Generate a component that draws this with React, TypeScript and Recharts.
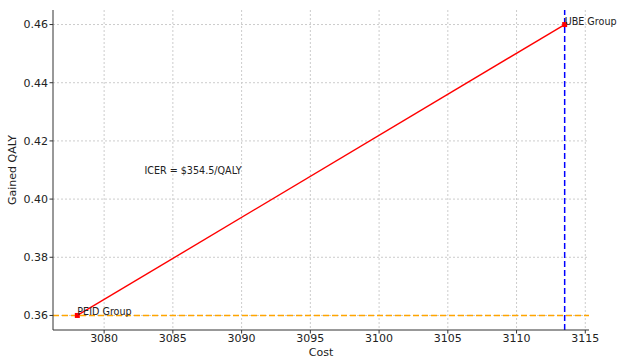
import { LineChart, Line, XAxis, YAxis, CartesianGrid, ReferenceLine, ReferenceDot, Label } from 'recharts'

const groups = ['PEID Group', 'UBE Group']
const costs = [3078.05, 3113.5]
const qalys = [0.36, 0.46]
const xTicks = [3080, 3085, 3090, 3095, 3100, 3105, 3110, 3115]
const yTicks = [0.36, 0.38, 0.4, 0.42, 0.44, 0.46]
const icerText = 'ICER = $354.5/QALY'

const data = groups.map((name, i) => ({ name, cost: costs[i], qaly: qalys[i] }))

const FONT = '"DejaVu Sans", sans-serif'

// square marker like matplotlib's 's'
const SquareDot = (props: any) => {
    const { cx, cy, index } = props
    if (cx == null || cy == null) return null
    return <rect key={`sq-${index}`} x={cx - 2.5} y={cy - 2.5} width={5} height={5} fill="#ff0000" />
}

const PointLabel = (props: any) => {
    const { x, y, index } = props
    return (
        <text x={x} y={y} fontSize={9.6} fontFamily={FONT} fill="#222" textAnchor="start">
            {groups[index]}
        </text>
    )
}

export default function App() {
    return (
        <div style={{ position: 'absolute', left: 0, top: 0, background: '#fff' }}>
            <LineChart width={617} height={358} data={data} margin={{ top: 10, right: 28, left: 0, bottom: 0 }}>
                <CartesianGrid stroke="#cccccc" strokeDasharray="2 2" syncWithTicks />
                <XAxis
                    dataKey="cost"
                    type="number"
                    domain={[3076.28, 3115.27]}
                    ticks={xTicks}
                    allowDataOverflow
                    height={28}
                    tickSize={3.5}
                    tickMargin={1}
                    stroke="#333"
                    tick={{ fill: '#222', fontSize: 11, fontFamily: FONT }}
                >
                    <Label
                        content={(p: any) => {
                            const vb = p.viewBox
                            return (
                                <text x={vb.x + vb.width / 2} y={352} textAnchor="middle" dominantBaseline="central" fontSize={11} fontFamily={FONT} fill="#222">
                                    Cost
                                </text>
                            )
                        }}
                    />
                </XAxis>
                <YAxis
                    type="number"
                    domain={[0.355, 0.465]}
                    ticks={yTicks}
                    allowDataOverflow
                    width={53}
                    tickSize={3.5}
                    tickMargin={1.5}
                    stroke="#333"
                    tickFormatter={(v: number) => v.toFixed(2)}
                    tick={{ fill: '#222', fontSize: 11, fontFamily: FONT }}
                >
                    <Label
                        content={(p: any) => {
                            const vb = p.viewBox
                            const cy = vb.y + vb.height / 2
                            return (
                                <text x={12.5} y={cy} transform={`rotate(-90, 12.5, ${cy})`} textAnchor="middle" dominantBaseline="central" fontSize={11} fontFamily={FONT} fill="#222">
                                    Gained QALY
                                </text>
                            )
                        }}
                    />
                </YAxis>
                <ReferenceLine y={qalys[0]} stroke="#ffa500" strokeWidth={1.5} strokeDasharray="6 3" />
                <ReferenceLine x={costs[1]} stroke="#0000ff" strokeWidth={1.5} strokeDasharray="6 3" />
                <Line
                    dataKey="qaly"
                    stroke="#ff0000"
                    strokeWidth={1.4}
                    dot={<SquareDot />}
                    activeDot={false}
                    label={<PointLabel />}
                    isAnimationActive={false}
                />
                <ReferenceDot
                    x={3083}
                    y={0.41}
                    r={1}
                    fill="none"
                    stroke="none"
                    label={(p: any) => {
                        const vb = p.viewBox
                        return (
                            <text x={vb.x} y={vb.y + vb.height / 2} dominantBaseline="central" fontSize={9.6} fontFamily={FONT} fill="#222">
                                {icerText}
                            </text>
                        )
                    }}
                />
            </LineChart>
        </div>
    )
}
